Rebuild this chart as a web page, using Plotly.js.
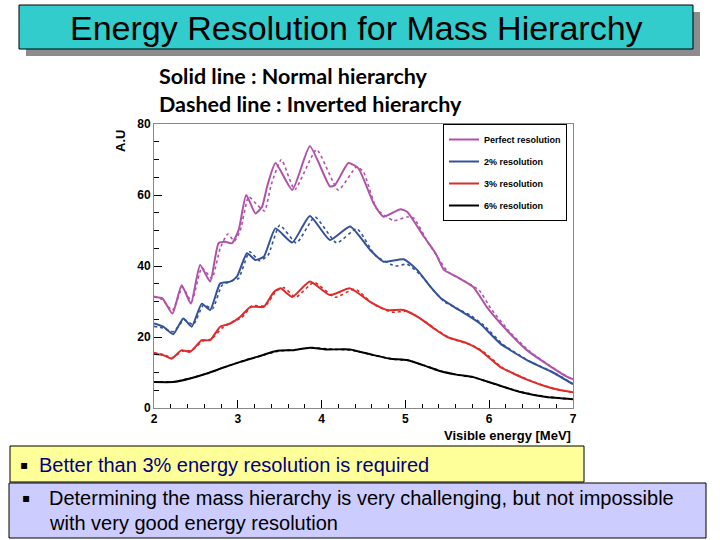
<!DOCTYPE html>
<html>
<head>
<meta charset="utf-8">
<script src="https://cdn.plot.ly/plotly-3.0.1.min.js"></script>
<style>html,body{margin:0;padding:0;background:#fff;}#chart{width:720px;height:540px;}</style>
</head>
<body>
<div id="chart"></div>
<script>
// ---- data ----
const seriesNames = ["Perfect resolution", "2% resolution", "3% resolution", "6% resolution"];

const perfectNormalX = [2.00,2.10,2.22,2.33,2.44,2.55,2.67,2.77,2.85,2.93,3.01,3.10,3.21,3.29,3.35,3.45,3.65,3.86,4.10,4.16,4.32,4.44,4.62,4.74,4.94,5.02,5.22,5.36,5.46,5.61,5.81,5.97,6.21,6.45,6.68,6.92,7.00];
const perfectNormalY = [31.3,30.9,26.6,34.6,29.4,40.3,35.6,46.4,46.8,46.4,50.1,60.0,54.8,56.7,62.4,69.0,61.4,73.7,62.4,62.8,69.0,67.5,57.7,53.9,56.0,55.3,48.3,43.6,38.9,37.0,34.1,28.5,21.9,16.3,12.5,8.9,8.1];
const perfectInvertedX = [2.00,2.10,2.22,2.34,2.45,2.57,2.69,2.79,2.88,2.96,3.03,3.13,3.24,3.32,3.40,3.52,3.68,3.94,4.20,4.42,4.50,4.66,4.86,5.02,5.10,5.26,5.40,5.50,5.70,5.88,6.02,6.25,6.48,6.70,6.94,7.00];
const perfectInvertedY = [31.5,30.5,27.5,34.0,30.0,39.5,36.5,45.0,49.0,47.0,50.0,59.5,57.0,55.5,63.0,70.0,61.5,72.8,61.4,68.0,66.5,56.0,52.8,53.8,53.5,47.0,42.0,38.5,35.8,33.2,28.0,21.3,16.0,12.3,8.7,8.1];

const res2NormalX = [2.00,2.11,2.23,2.35,2.45,2.57,2.67,2.79,2.91,2.99,3.11,3.21,3.31,3.45,3.65,3.86,4.10,4.34,4.58,4.74,4.98,5.14,5.30,5.42,5.58,5.71,5.89,6.13,6.45,6.76,7.00];
const res2NormalY = [23.8,22.9,20.8,25.2,22.9,29.4,27.6,35.1,35.6,37.0,43.6,41.7,42.6,50.6,46.6,54.1,47.3,51.1,44.5,41.2,41.9,38.9,34.1,31.0,28.5,26.6,23.8,18.2,13.5,10.0,6.7];
const res2InvertedX = [2.00,2.11,2.23,2.36,2.47,2.59,2.70,2.81,2.93,3.01,3.14,3.26,3.36,3.50,3.70,3.92,4.18,4.42,4.64,4.88,5.02,5.18,5.34,5.46,5.62,5.78,5.94,6.17,6.48,6.78,7.00];
const res2InvertedY = [23.0,22.5,21.5,24.8,23.5,29.0,28.0,34.5,35.8,36.5,44.0,41.5,43.0,51.5,46.5,53.8,46.5,50.5,43.0,40.0,40.5,37.5,33.0,30.0,28.0,26.0,23.2,17.8,13.2,9.9,6.8];

const res3NormalX = [2.00,2.11,2.21,2.33,2.43,2.57,2.67,2.79,2.91,3.03,3.15,3.31,3.43,3.51,3.65,3.86,4.10,4.34,4.58,4.78,4.98,5.18,5.34,5.50,5.74,5.89,6.13,6.45,6.76,7.00];
const res3NormalY = [15.3,14.9,13.9,16.3,15.8,19.1,19.1,22.9,23.8,25.7,28.5,28.5,32.7,33.7,31.3,35.6,31.8,33.7,29.9,27.6,27.6,25.2,22.4,20.0,18.2,16.3,11.6,8.0,5.5,4.4];
const res3InvertedX = [2.00,2.12,2.22,2.34,2.45,2.58,2.69,2.81,2.93,3.05,3.17,3.33,3.46,3.55,3.69,3.91,4.16,4.40,4.62,4.84,5.02,5.22,5.38,5.54,5.78,5.93,6.16,6.48,6.78,7.00];
const res3InvertedY = [15.6,15.0,14.2,16.0,16.2,18.8,19.5,22.5,24.2,25.5,28.8,28.8,33.0,33.9,31.2,35.4,31.2,33.5,29.2,27.0,27.2,24.6,21.9,19.6,17.8,15.9,11.3,7.8,5.4,4.4];

const res6NormalX = [2.00,2.23,2.43,2.63,2.83,3.03,3.23,3.47,3.67,3.86,4.06,4.34,4.62,4.82,5.02,5.22,5.40,5.61,5.81,6.05,6.37,6.68,7.00];
const res6NormalY = [7.3,7.3,8.3,9.7,11.4,13.0,14.4,16.1,16.3,17.0,16.5,16.5,14.9,13.9,13.5,12.0,10.5,9.4,8.7,6.9,4.5,3.1,2.5];
const res6InvertedX = [2.00,2.23,2.44,2.64,2.84,3.04,3.24,3.48,3.68,3.88,4.08,4.36,4.64,4.84,5.04,5.24,5.42,5.62,5.82,6.06,6.38,6.70,7.00];
const res6InvertedY = [7.4,7.4,8.4,9.8,11.5,13.1,14.5,16.0,16.4,17.0,16.6,16.3,14.8,13.8,13.4,11.9,10.4,9.3,8.6,6.8,4.5,3.1,2.5];

const xTicks = [2,3,4,5,6,7];
const yTicks = [0,20,40,60,80];

// ---- styling ----
const colors = ["#b052aa", "#34529a", "#e02a2a", "#000000"];
const normals = [[perfectNormalX,perfectNormalY],[res2NormalX,res2NormalY],[res3NormalX,res3NormalY],[res6NormalX,res6NormalY]];
const inverteds = [[perfectInvertedX,perfectInvertedY],[res2InvertedX,res2InvertedY],[res3InvertedX,res3InvertedY],[res6InvertedX,res6InvertedY]];

const traces = [];
inverteds.forEach((d,i)=>{
  traces.push({x:d[0], y:d[1], type:'scatter', mode:'lines', showlegend:false, hoverinfo:'skip',
    line:{color:colors[i], width:1.6, dash:'dot', shape:'spline', smoothing:0.5}});
});
normals.forEach((d,i)=>{
  traces.push({x:d[0], y:d[1], type:'scatter', mode:'lines', name:seriesNames[i], legendgroup:'g'+i,
    line:{color:colors[i], width:2, shape:'spline', smoothing:0.5}});
});

// plot area pixels
const L=154, R=573, T=124, B=408;
const W=R-L, H=B-T;
const px = x => (x-L)/W;
const py = y => (B-y)/H;

const shapes = [
  {type:'rect', xref:'paper', yref:'paper', x0:px(26), x1:px(700), y0:py(56), y1:py(12), fillcolor:'#8c8c8c', line:{width:0}},
  {type:'rect', xref:'paper', yref:'paper', x0:px(19), x1:px(693), y0:py(49), y1:py(5), fillcolor:'#33cccc', line:{color:'#000', width:1}},
  {type:'rect', xref:'paper', yref:'paper', x0:px(10), x1:px(584), y0:py(482), y1:py(446), fillcolor:'#ffff99', line:{color:'#000', width:1}},
  {type:'rect', xref:'paper', yref:'paper', x0:px(9), x1:px(706), y0:py(538), y1:py(483), fillcolor:'#ccccff', line:{color:'#000', width:1}}
];

const ann = (text, x, y, opts) => Object.assign({text:text, xref:'paper', yref:'paper', x:px(x), y:py(y), showarrow:false, xanchor:'left', yanchor:'middle'}, opts||{});

const annotations = [
  ann('Energy Resolution for Mass Hierarchy', 356, 28, {xanchor:'center', font:{family:'Liberation Sans, Arial', size:34, color:'#000'}}),
  ann('Solid line : Normal hierarchy', 157, 76, {font:{family:'Lato', size:21.5, color:'#000', weight:'bold'}}),
  ann('Dashed line : Inverted hierarchy', 157, 104, {font:{family:'Lato', size:21.5, color:'#000', weight:'bold'}}),
  ann('A.U', 120, 128, {textangle:-90, xanchor:'center', yanchor:'top', font:{family:'Liberation Sans, Arial', size:13, color:'#000', weight:'bold'}}),
  ann('Visible energy [MeV]', 573, 435, {xanchor:'right', font:{family:'Liberation Sans, Arial', size:13, color:'#000', weight:'bold'}}),
  ann('\u25AA', 18, 465, {font:{family:'DejaVu Sans', size:12, color:'#000'}}),
  ann('Better than 3% energy resolution is required', 37, 465, {font:{family:'Liberation Sans, Arial', size:20, color:'#000080'}}),
  ann('\u25AA', 20, 498, {font:{family:'DejaVu Sans', size:12, color:'#000'}}),
  ann('Determining the mass hierarchy is very challenging, but not impossible', 47, 498, {font:{family:'Liberation Sans, Arial', size:20, color:'#000'}}),
  ann('with very good energy resolution', 47, 523, {font:{family:'Liberation Sans, Arial', size:20, color:'#000'}})
];

const tickFont = {family:'Liberation Sans, Arial', size:12, color:'#000', weight:'bold'};

const layout = {
  width:720, height:540,
  margin:{l:L, r:720-R, t:T, b:540-B, pad:0},
  paper_bgcolor:'#fff', plot_bgcolor:'#fff',
  showlegend:true,
  legend:{x:px(443), y:1, xanchor:'left', yanchor:'top', bgcolor:'#fff', bordercolor:'#000', borderwidth:1,
    font:{family:'Liberation Sans, Arial', size:9, color:'#000', weight:'bold'}, tracegroupgap:3, traceorder:'grouped', itemwidth:30},
  xaxis:{range:[2,7], tickvals:xTicks, ticktext:xTicks.map(String), ticks:'inside', ticklen:8, tickcolor:'#000',
    showgrid:false, zeroline:false, showline:true, linecolor:'#888', linewidth:1, mirror:true, tickfont:tickFont,
    minor:{dtick:0.2, ticks:'inside', ticklen:4, tickcolor:'#000', showgrid:false}},
  yaxis:{range:[0,80], tickvals:yTicks, ticktext:yTicks.map(String), ticks:'inside', ticklen:8, tickcolor:'#000',
    showgrid:false, zeroline:false, showline:true, linecolor:'#888', linewidth:1, mirror:true, tickfont:tickFont,
    minor:{dtick:5, ticks:'inside', ticklen:5, tickcolor:'#000', showgrid:false}},
  shapes:shapes,
  annotations:annotations
};

Plotly.newPlot('chart', traces, layout, {staticPlot:true, displayModeBar:false});
</script>
</body>
</html>
